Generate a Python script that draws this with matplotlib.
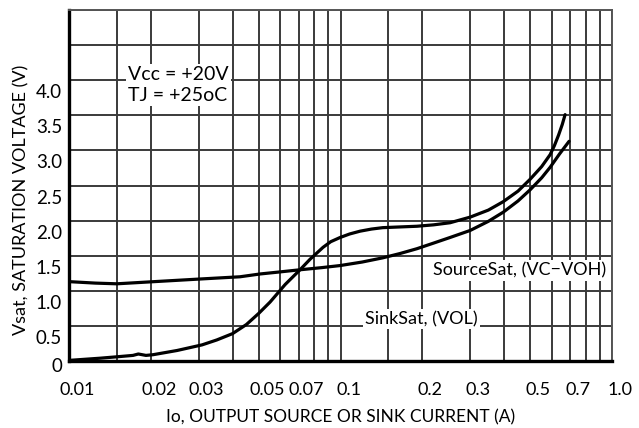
import matplotlib
matplotlib.use("Agg")
import matplotlib.pyplot as plt
from matplotlib.transforms import ScaledTranslation

plt.rcParams['font.family'] = ['Lato', 'DejaVu Sans']

# curve readings (Io in A, Vsat in V)
sink_io = [0.0101, 0.013, 0.015, 0.0172, 0.018, 0.0192, 0.0204, 0.025, 0.0309, 0.035,
           0.040, 0.045, 0.050, 0.055, 0.0625, 0.0709, 0.0772, 0.0862, 0.092, 0.0996,
           0.108, 0.118, 0.13, 0.143, 0.165, 0.191, 0.22, 0.253, 0.300, 0.35,
           0.397, 0.45, 0.499, 0.55, 0.591, 0.613, 0.635, 0.655, 0.671]
sink_v = [0.01, 0.04, 0.06, 0.08, 0.10, 0.08, 0.09, 0.15, 0.23, 0.30,
          0.39, 0.52, 0.68, 0.84, 1.09, 1.30, 1.45, 1.62, 1.70, 1.76,
          1.81, 1.85, 1.88, 1.90, 1.91, 1.92, 1.94, 1.97, 2.05, 2.15,
          2.27, 2.42, 2.59, 2.77, 2.94, 3.07, 3.22, 3.37, 3.51]

source_io = [0.0101, 0.0125, 0.015, 0.0204, 0.0309, 0.0426, 0.0505, 0.06, 0.0709, 0.085,
             0.0996, 0.12, 0.143, 0.165, 0.191, 0.22, 0.253, 0.300, 0.35, 0.397,
             0.45, 0.499, 0.55, 0.591, 0.64, 0.694]
source_v = [1.13, 1.11, 1.10, 1.13, 1.17, 1.20, 1.24, 1.27, 1.30, 1.33,
            1.36, 1.41, 1.47, 1.53, 1.60, 1.68, 1.76, 1.86, 1.99, 2.12,
            2.28, 2.44, 2.61, 2.76, 2.95, 3.13]

x_ticks = [0.01, 0.02, 0.03, 0.05, 0.07, 0.1, 0.2, 0.3, 0.5, 0.7, 1.0]
x_tick_labels = ['0.01', '0.02', '0.03', '0.05', '0.07', '0.1', '0.2', '0.3', '0.5', '0.7', '1.0']
x_grid = [0.01, 0.015, 0.02, 0.03, 0.04, 0.05, 0.06, 0.07, 0.08, 0.09,
          0.1, 0.15, 0.2, 0.3, 0.4, 0.5, 0.6, 0.7, 0.8, 0.9, 1.0]
y_ticks = [0, 0.5, 1.0, 1.5, 2.0, 2.5, 3.0, 3.5, 4.0, 4.5, 5.0]
y_tick_labels = ['0', '0.5', '1.0', '1.5', '2.0', '2.5', '3.0', '3.5', '4.0', '', '']

fig = plt.figure(figsize=(6.39, 4.28), dpi=100)
ax = fig.add_axes([0.108, 0.1565, 0.850, 0.820])

ax.set_xscale('log')
ax.set_xlim(0.01, 1.0)
ax.set_ylim(0, 5.0)

ax.set_xticks(x_ticks)
ax.set_xticklabels(x_tick_labels)
ax.set_xticks(x_grid, minor=True)
ax.set_xticklabels([], minor=True)
ax.set_yticks(y_ticks)
ax.set_yticklabels(y_tick_labels)

ax.grid(True, which='both', color='#3a3a3a', linewidth=1.4)
ax.tick_params(which='both', length=0)
ax.tick_params(axis='x', pad=15, labelsize=13)
ax.tick_params(axis='y', pad=5, labelsize=13.5)
ax.set_axisbelow(True)

for side in ['left', 'bottom']:
    ax.spines[side].set_linewidth(2.4)
    ax.spines[side].set_color('black')
for side in ['top', 'right']:
    ax.spines[side].set_linewidth(1.4)
    ax.spines[side].set_color('#555555')

ax.plot(source_io, source_v, color='black', linewidth=2.3,
        solid_capstyle='round', solid_joinstyle='round')
ax.plot(sink_io, sink_v, color='black', linewidth=2.3,
        solid_capstyle='round', solid_joinstyle='round')

box = dict(facecolor='white', edgecolor='none', pad=1.5)
ax.text(0.0165, 3.93, 'Vcc = +20V\nTJ = +25oC', fontsize=14, va='center', ha='left',
        linespacing=1.25, bbox=box)
ax.text(0.219, 1.29, 'SourceSat, (VC\u2212VOH)', fontsize=13, va='center', ha='left', bbox=box)
ax.text(0.123, 0.60, 'SinkSat, (VOL)', fontsize=13, va='center', ha='left', bbox=box)

ax.set_xlabel('Io, OUTPUT SOURCE OR SINK CURRENT (A)', fontsize=12.5, labelpad=8)
ax.set_ylabel('Vsat, SATURATION VOLTAGE (V)', fontsize=13)
ax.yaxis.set_label_coords(-0.072, 0.46)

# the scanned labels sit a little off their grid lines
for lab in ax.get_xticklabels():
    lab.set_transform(lab.get_transform() + ScaledTranslation(8 / 100, 0, fig.dpi_scale_trans))
for lab in ax.get_yticklabels():
    dy = -4 if lab.get_text() == '0' else -11
    lab.set_transform(lab.get_transform() + ScaledTranslation(0, dy / 100, fig.dpi_scale_trans))

fig.savefig('out.png', dpi=100, facecolor='white')
